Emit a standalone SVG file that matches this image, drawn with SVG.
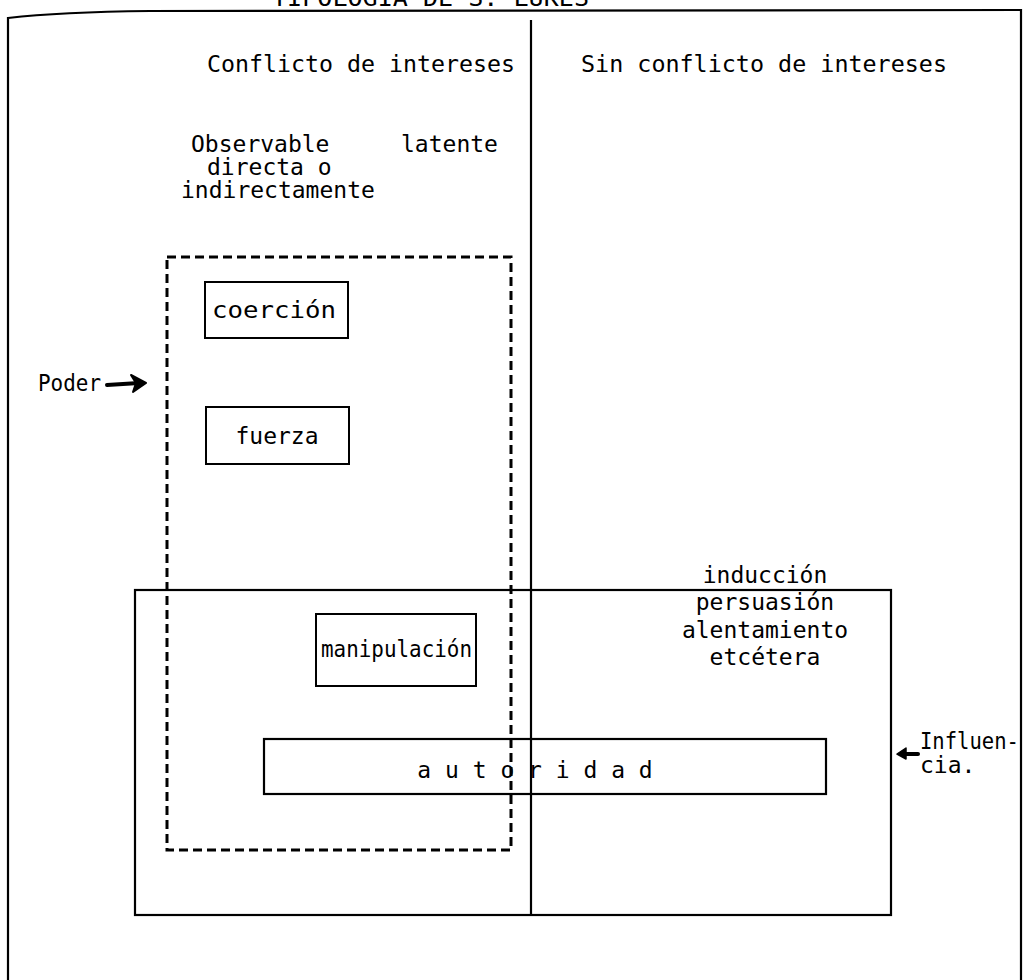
<svg xmlns="http://www.w3.org/2000/svg" width="1030" height="980" viewBox="0 0 1030 980">
  <style>
    text { font-family: "DejaVu Sans Mono", "Liberation Mono", monospace; font-size: 23px; fill: #000; }
    .mid { text-anchor: middle; }
    .line { fill: none; stroke: #000; stroke-width: 2.2; }
    .box { fill: #fff; stroke: #000; stroke-width: 2; }
    .dash { fill: none; stroke: #000; stroke-width: 3; stroke-dasharray: 9 5; }
    .arrow { fill: none; stroke: #000; stroke-width: 4; stroke-linecap: round; stroke-linejoin: round; }
  </style>

  <!-- title, running off the top edge -->
  <text x="272" y="6" textLength="317" lengthAdjust="spacingAndGlyphs">TIPOLOGIA DE S. LUKES</text>

  <!-- outer frame -->
  <g id="frame">
    <path class="line" d="M8,980 L8,18 Q60,12 150,11 L1021,10 L1021,980"/>
  </g>

  <!-- column headers -->
  <g id="headers">
    <text x="207" y="72" textLength="308" lengthAdjust="spacingAndGlyphs">Conflicto de intereses</text>
    <text x="581" y="72" textLength="366" lengthAdjust="spacingAndGlyphs">Sin conflicto de intereses</text>
    <text x="191" y="152">Observable</text>
    <text x="401" y="152">latente</text>
    <text x="207" y="175">directa o</text>
    <text x="181" y="198">indirectamente</text>
  </g>

  <g id="connectors">
    <!-- column divider -->
    <line class="line" x1="531" y1="20" x2="531" y2="915"/>
    <!-- power region (dashed) -->
    <rect id="poder-region" class="dash" x="167" y="257" width="344" height="593"/>
    <!-- influence region -->
    <rect id="influencia-region" class="line" x="135" y="590" width="756" height="325"/>
  </g>

  <g id="poder">
    <text x="38" y="391" textLength="63" lengthAdjust="spacingAndGlyphs">Poder</text>
    <path class="arrow" d="M107,385 L139,383"/>
    <path d="M131,375 L146,383 L133,392 L136,383 Z" fill="#000" stroke="#000" stroke-width="2" stroke-linejoin="round"/>
  </g>

  <g id="influencia">
    <text x="920" y="749" textLength="99" lengthAdjust="spacingAndGlyphs">Influen-</text>
    <text x="920" y="773">cia.</text>
    <path class="arrow" d="M918,754 L903,754"/>
    <path d="M906,748 L897,754 L906,759 Z" fill="#000" stroke="#000" stroke-width="1.5" stroke-linejoin="round"/>
  </g>

  <g id="coercion">
    <rect class="box" x="205" y="282" width="143" height="56"/>
    <text x="212" y="318" textLength="124" lengthAdjust="spacingAndGlyphs">coerción</text>
  </g>

  <g id="fuerza">
    <rect class="box" x="206" y="407" width="143" height="57"/>
    <text class="mid" x="277" y="444">fuerza</text>
  </g>

  <g id="manipulacion">
    <rect class="box" x="316" y="614" width="160" height="72"/>
    <text x="321" y="657" textLength="151" lengthAdjust="spacingAndGlyphs">manipulación</text>
  </g>

  <g id="otros">
    <text class="mid" x="765" y="583">inducción</text>
    <text class="mid" x="765" y="610">persuasión</text>
    <text class="mid" x="765" y="638">alentamiento</text>
    <text class="mid" x="765" y="665">etcétera</text>
  </g>

  <g id="autoridad">
    <rect class="line" x="264" y="739" width="562" height="55"/>
    <text class="mid" x="535" y="778">a u t o r i d a d</text>
  </g>
</svg>
